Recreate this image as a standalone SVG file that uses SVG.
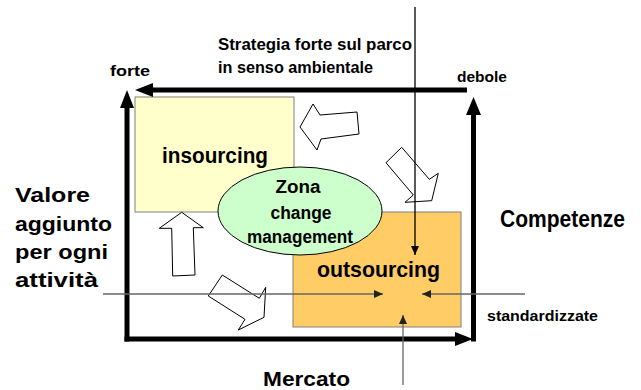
<svg xmlns="http://www.w3.org/2000/svg" width="641" height="390" viewBox="0 0 641 390">
<defs>
<style>
text{font-family:"Liberation Sans",Arial,sans-serif;font-weight:bold;fill:#000;}
.axis{stroke:#000;stroke-width:5;fill:none;}
.head{fill:#000;stroke:none;}
.block{fill:#fff;stroke:#000;stroke-width:1;stroke-linejoin:miter;}
.thin{stroke:#000;stroke-width:1.3;fill:none;}
.grey{stroke:#666;stroke-width:1.3;fill:none;}
</style>
<marker id="ah" markerUnits="userSpaceOnUse" markerWidth="10" markerHeight="10" refX="9" refY="4" orient="auto">
<path d="M0,0 L9,4 L0,8 z" fill="#000"/>
</marker>
<marker id="ahg" markerUnits="userSpaceOnUse" markerWidth="10" markerHeight="10" refX="9" refY="4" orient="auto">
<path d="M0,0 L9,4 L0,8 z" fill="#222"/>
</marker>
</defs>
<rect width="641" height="390" fill="#fff"/>

<g id="insourcing">
<rect x="135" y="97" width="159" height="115" fill="#FFFFCC" stroke="#808080" stroke-width="1"/>
<text x="215" y="163" font-size="22" text-anchor="middle" textLength="106" lengthAdjust="spacingAndGlyphs">insourcing</text>
</g>

<g id="outsourcing">
<rect x="293" y="212" width="168" height="115" fill="#FFCC66" stroke="#808080" stroke-width="1"/>
<text x="378.5" y="277" font-size="22" text-anchor="middle" textLength="123" lengthAdjust="spacingAndGlyphs">outsourcing</text>
</g>

<g id="zona">
<ellipse cx="300" cy="211" rx="82" ry="44" fill="#CCFFCC" stroke="#000" stroke-width="1"/>
<text x="298" y="193" font-size="18" text-anchor="middle" textLength="45" lengthAdjust="spacingAndGlyphs">Zona</text>
<text x="301" y="219" font-size="18" text-anchor="middle" textLength="61" lengthAdjust="spacingAndGlyphs">change</text>
<text x="300" y="243" font-size="18" text-anchor="middle" textLength="106" lengthAdjust="spacingAndGlyphs">management</text>
</g>

<g id="block-arrows">
<polygon class="block" points="300,127 313,104 320,115 357,112 359,134 321,139 317,150"/>
<polygon class="block" points="401.7,147.3 386,162.7 413.3,195 405,202.3 431.7,200.7 438.3,173.3 429.3,179.3"/>
<polygon class="block" points="181.7,212.3 159.3,228.3 171.7,228.3 172.7,276 195,275 193.3,227.7 203.3,227.7"/>
<polygon class="block" points="222.3,275 208.3,296 245,319.3 238.3,330 264,317.3 265.7,287.3 259.3,298.3"/>
</g>

<g id="connectors">
<line class="axis" x1="467" y1="90" x2="150" y2="90"/>
<polygon class="head" points="135,90 153,83 153,97"/>
<line class="axis" x1="127" y1="341.5" x2="127" y2="105"/>
<polygon class="head" points="127,90 120,108 134,108"/>
<line class="axis" x1="124.5" y1="339" x2="458" y2="339"/>
<polygon class="head" points="473,339 455,332 455,346"/>
<line class="axis" x1="473.5" y1="341.5" x2="473.5" y2="112"/>
<polygon class="head" points="473.5,97 466,115 481,115"/>
<line class="thin" x1="415" y1="7" x2="415" y2="255" marker-end="url(#ah)"/>
<line class="grey" x1="403" y1="385" x2="403" y2="315" marker-end="url(#ahg)"/>
<line class="grey" x1="103" y1="294" x2="383" y2="294" marker-end="url(#ahg)"/>
<line class="grey" x1="525" y1="294" x2="422" y2="294" marker-end="url(#ahg)"/>
</g>

<g id="labels">
<text x="218" y="50" font-size="16" textLength="194" lengthAdjust="spacingAndGlyphs">Strategia forte sul parco</text>
<text x="218" y="73" font-size="16" textLength="155" lengthAdjust="spacingAndGlyphs">in senso ambientale</text>
<text x="110" y="76" font-size="15" textLength="40" lengthAdjust="spacingAndGlyphs">forte</text>
<text x="457" y="82" font-size="15" textLength="50" lengthAdjust="spacingAndGlyphs">debole</text>
<text x="15" y="202" font-size="20" textLength="75" lengthAdjust="spacingAndGlyphs">Valore</text>
<text x="15" y="231" font-size="20" textLength="97" lengthAdjust="spacingAndGlyphs">aggiunto</text>
<text x="15" y="259" font-size="20" textLength="93" lengthAdjust="spacingAndGlyphs">per ogni</text>
<text x="15" y="287" font-size="20" textLength="83" lengthAdjust="spacingAndGlyphs">attività</text>
<text x="500" y="227" font-size="23" textLength="125" lengthAdjust="spacingAndGlyphs">Competenze</text>
<text x="487" y="321" font-size="15" textLength="111" lengthAdjust="spacingAndGlyphs">standardizzate</text>
<text x="263" y="386" font-size="21" textLength="87" lengthAdjust="spacingAndGlyphs">Mercato</text>
</g>
</svg>
